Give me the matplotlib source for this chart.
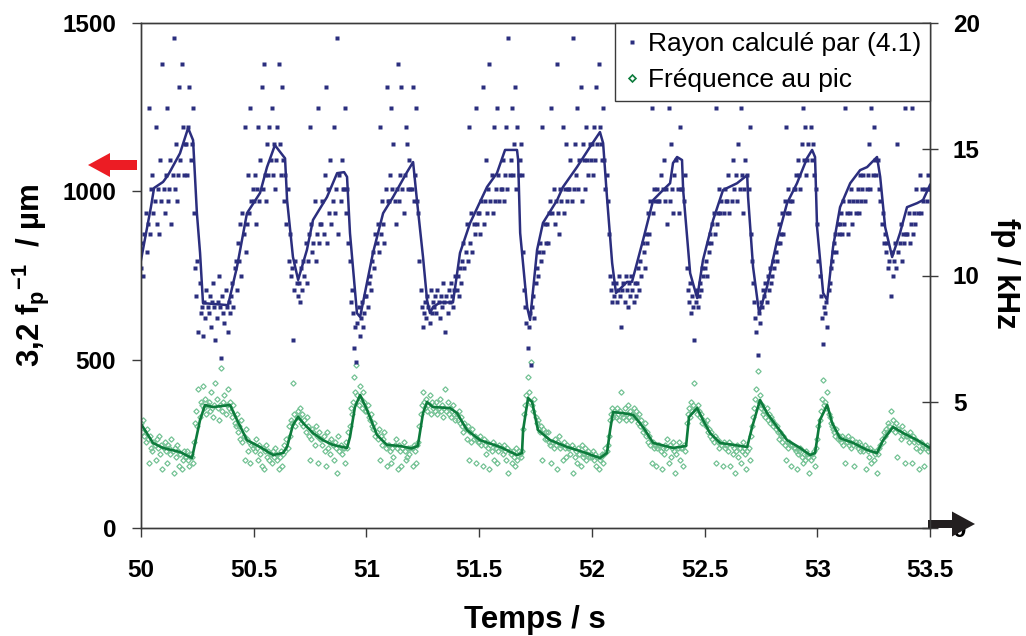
import numpy as np
import matplotlib.pyplot as plt
from matplotlib.lines import Line2D
from matplotlib.patches import FancyArrow
from matplotlib.transforms import Affine2D

plt.rcParams['font.family'] = ['Liberation Sans', 'DejaVu Sans']
plt.rcParams['font.weight'] = 'bold'
plt.rcParams['mathtext.fontset'] = 'custom'
plt.rcParams['mathtext.rm'] = 'Liberation Sans:bold'
plt.rcParams['mathtext.it'] = 'Liberation Sans:bold'
plt.rcParams['mathtext.bf'] = 'Liberation Sans:bold'
plt.rcParams['mathtext.default'] = 'rm'

W, H = 1026, 636

# raw peak frequency, as FFT bin index, one row per 0.1 s (dt = 5 ms)
T_START = 50.0
DT = 0.005
FP_BIN_KHZ = 0.1221
fp_bins = [
    [34, 31, 35, 30, 28, 32, 29, 21, 30, 26, 25, 28, 27, 22, 29, 26, 30, 24, 27, 19],
    [26, 28, 25, 21, 27, 26, 24, 29, 25, 18, 26, 23, 27, 25, 20, 24, 19, 22, 25, 23],
    [23, 25, 22, 20, 24, 23, 21, 28, 34, 38, 33, 45, 36, 41, 40, 46, 39, 42, 37, 40],
    [41, 38, 44, 39, 36, 40, 47, 42, 39, 35, 40, 52, 38, 41, 43, 37, 40, 45, 39, 41],
    [38, 36, 40, 34, 33, 37, 31, 33, 29, 35, 28, 30, 22, 32, 29, 25, 28, 21, 27, 26],
    [27, 25, 29, 26, 22, 27, 24, 20, 26, 19, 25, 27, 23, 25, 22, 24, 21, 25, 23, 26],
    [24, 22, 19, 23, 25, 20, 24, 27, 25, 29, 26, 33, 30, 35, 34, 47, 37, 33, 36, 38],
    [36, 39, 34, 37, 33, 35, 31, 36, 33, 30, 22, 29, 32, 31, 27, 33, 30, 21, 31, 29],
    [29, 27, 30, 25, 20, 31, 26, 28, 24, 29, 27, 22, 28, 26, 18, 30, 25, 27, 24, 26],
    [26, 21, 28, 26, 31, 33, 39, 37, 41, 49, 44, 53, 43, 40, 46, 42, 39, 44, 41, 38],
    [38, 40, 36, 35, 37, 33, 32, 34, 30, 31, 29, 32, 22, 30, 27, 29, 31, 26, 20, 27],
    [27, 25, 21, 26, 23, 27, 29, 26, 19, 27, 25, 20, 26, 28, 25, 22, 23, 26, 24, 26],
    [26, 20, 27, 25, 21, 27, 28, 33, 37, 40, 44, 41, 39, 42, 38, 40, 43, 37, 41, 39],
    [40, 38, 41, 37, 39, 42, 38, 40, 36, 39, 45, 38, 41, 37, 39, 36, 38, 40, 37, 35],
    [37, 35, 38, 34, 36, 33, 31, 34, 32, 29, 33, 22, 31, 28, 32, 29, 30, 21, 29, 28],
    [28, 30, 27, 20, 29, 27, 24, 28, 26, 19, 27, 25, 28, 22, 27, 26, 21, 25, 27, 26],
    [26, 24, 27, 25, 22, 26, 18, 25, 24, 21, 25, 23, 20, 26, 22, 25, 24, 23, 25, 32],
    [37, 40, 43, 49, 44, 41, 54, 40, 38, 42, 36, 34, 35, 32, 31, 33, 22, 32, 29, 31],
    [29, 31, 28, 27, 21, 28, 26, 29, 27, 19, 28, 30, 26, 27, 22, 28, 26, 23, 27, 26],
    [26, 24, 27, 18, 26, 23, 25, 21, 26, 24, 20, 27, 23, 24, 26, 22, 24, 25, 23, 24],
    [23, 25, 22, 24, 20, 23, 19, 22, 23, 24, 21, 24, 26, 25, 27, 30, 35, 37, 39, 36],
    [38, 36, 39, 37, 35, 38, 44, 37, 36, 39, 35, 37, 40, 36, 38, 35, 37, 39, 36, 38],
    [36, 34, 37, 33, 35, 31, 32, 34, 30, 31, 28, 30, 27, 21, 28, 26, 27, 20, 26, 27],
    [27, 25, 19, 26, 24, 27, 26, 29, 21, 27, 23, 26, 28, 25, 18, 24, 26, 28, 22, 26],
    [26, 20, 27, 25, 34, 37, 39, 36, 41, 38, 40, 47, 39, 37, 40, 38, 36, 37, 34, 35],
    [34, 33, 35, 31, 32, 30, 31, 29, 28, 30, 21, 29, 28, 26, 28, 27, 20, 28, 26, 27],
    [27, 25, 28, 20, 27, 24, 26, 18, 25, 27, 23, 26, 21, 25, 28, 26, 24, 19, 25, 26],
    [22, 30, 33, 36, 39, 42, 45, 51, 41, 43, 39, 40, 37, 38, 36, 39, 35, 37, 34, 36],
    [35, 33, 34, 32, 33, 31, 29, 31, 30, 28, 30, 27, 22, 28, 26, 28, 27, 20, 27, 26],
    [26, 25, 19, 24, 25, 26, 23, 21, 24, 22, 25, 24, 23, 18, 22, 24, 23, 25, 20, 26],
    [29, 33, 35, 38, 42, 48, 40, 41, 39, 44, 37, 36, 34, 33, 32, 31, 30, 32, 29, 30],
    [29, 28, 30, 27, 29, 21, 28, 30, 27, 28, 26, 29, 27, 20, 28, 27, 26, 28, 25, 27],
    [26, 25, 27, 19, 26, 25, 23, 26, 21, 25, 22, 24, 25, 18, 24, 26, 27, 29, 28, 31],
    [30, 32, 31, 34, 33, 38, 32, 35, 33, 31, 34, 23, 32, 31, 29, 33, 30, 31, 21, 30],
    [30, 28, 31, 29, 21, 30, 28, 29, 26, 28, 19, 25, 28, 26, 27, 20, 26, 27, 25, 26, 26],
]

# smoothed radius (um)
blue_t = [50.000, 50.044, 50.058, 50.098, 50.120, 50.173, 50.209, 50.231, 50.248, 50.262,
          50.275, 50.386, 50.426, 50.470, 50.528, 50.559, 50.594, 50.639, 50.648, 50.674,
          50.697, 50.736, 50.763, 50.825, 50.870, 50.901, 50.914, 50.927, 50.958, 50.972,
          51.029, 51.074, 51.118, 51.180, 51.207, 51.224, 51.251, 51.269, 51.282, 51.295,
          51.327, 51.384, 51.415, 51.460, 51.535, 51.579, 51.615, 51.668, 51.673, 51.682,
          51.713, 51.726, 51.757, 51.783, 51.846, 51.872, 51.934, 51.992, 52.036, 52.050,
          52.067, 52.090, 52.107, 52.156, 52.178, 52.227, 52.272, 52.316, 52.347, 52.360,
          52.378, 52.400, 52.405, 52.436, 52.467, 52.493, 52.538, 52.582, 52.644, 52.689,
          52.693, 52.715, 52.742, 52.777, 52.822, 52.866, 52.910, 52.955, 52.977, 52.990,
          52.999, 53.026, 53.044, 53.070, 53.101, 53.146, 53.190, 53.221, 53.265, 53.279,
          53.301, 53.332, 53.367, 53.398, 53.443, 53.469, 53.500]
blue_v = [796, 953, 1010, 1028, 1048, 1113, 1188, 1152, 935, 817,
          668, 662, 776, 935, 995, 1072, 1137, 1098, 974, 805,
          737, 826, 915, 983, 1054, 1057, 1043, 876, 638, 627,
          817, 935, 983, 1057, 1087, 974, 805, 677, 638, 656,
          670, 670, 817, 906, 1013, 1054, 1123, 1123, 1093, 876,
          656, 618, 826, 906, 974, 1013, 1072, 1132, 1176, 1143,
          983, 787, 698, 731, 731, 855, 974, 1004, 1024, 1084,
          1102, 1093, 1004, 757, 683, 796, 915, 1004, 1024, 1048,
          983, 776, 638, 716, 855, 965, 1024, 1099, 1123, 1102,
          894, 698, 677, 835, 953, 1024, 1063, 1072, 1102, 1043,
          894, 805, 876, 953, 965, 974, 1019]

# smoothed peak frequency (kHz)
green_t = [50.003, 50.053, 50.098, 50.173, 50.226, 50.231, 50.262, 50.284, 50.319, 50.395,
           50.426, 50.470, 50.528, 50.586, 50.630, 50.648, 50.674, 50.697, 50.719, 50.763,
           50.807, 50.852, 50.914, 50.927, 50.949, 50.972, 51.003, 51.047, 51.091, 51.149,
           51.200, 51.228, 51.251, 51.269, 51.295, 51.371, 51.402, 51.446, 51.504, 51.593,
           51.668, 51.690, 51.695, 51.717, 51.735, 51.761, 51.815, 51.890, 51.961, 52.036,
           52.067, 52.081, 52.094, 52.138, 52.183, 52.227, 52.272, 52.360, 52.418, 52.431,
           52.467, 52.493, 52.524, 52.569, 52.689, 52.711, 52.746, 52.777, 52.822, 52.866,
           52.924, 52.968, 52.990, 53.012, 53.044, 53.066, 53.101, 53.159, 53.221, 53.265,
           53.292, 53.336, 53.381, 53.443, 53.500]
green_v = [4.08, 3.37, 3.17, 3.01, 2.77, 2.97, 4.28, 4.87, 4.79, 4.87,
           4.28, 3.48, 3.21, 2.89, 2.97, 3.21, 4.08, 4.40, 4.16, 3.76,
           3.48, 3.29, 3.17, 3.60, 4.79, 5.27, 4.67, 3.68, 3.29, 3.25,
           3.15, 3.25, 4.55, 4.99, 4.79, 4.75, 4.55, 3.88, 3.48, 3.21,
           2.89, 2.97, 3.88, 5.15, 4.99, 3.88, 3.48, 3.21, 3.01, 2.77,
           2.97, 3.88, 4.59, 4.55, 4.48, 4.00, 3.37, 3.17, 3.25, 4.40,
           4.75, 4.28, 3.76, 3.37, 3.21, 4.00, 5.07, 4.55, 4.00, 3.48,
           3.17, 2.89, 2.97, 4.28, 4.87, 4.16, 3.56, 3.37, 3.09, 2.97,
           3.48, 4.00, 3.76, 3.48, 3.17]

x_ticks = [50, 50.5, 51, 51.5, 52, 52.5, 53, 53.5]
x_labels = ['50', '50.5', '51', '51.5', '52', '52.5', '53', '53.5']
left_ticks = [0, 500, 1000, 1500]
right_ticks = [0, 5, 10, 15, 20]

BLUE = '#2b2e7e'
GREEN = '#0d7b3c'
LIGHT_GREEN = '#74c294'
AXC = '#3a3a3a'

k = np.concatenate([np.array(r) for r in fp_bins])
t_raw = T_START + DT * np.arange(len(k))
fp_raw = k * FP_BIN_KHZ
rad_raw = 3.2e3 / fp_raw  # 3,2 / fp in um

fig = plt.figure(figsize=(W / 100, H / 100), dpi=100)
ax = fig.add_axes([141 / W, 1 - 528 / H, 789 / W, 505 / H])
ax2 = ax.twinx()
ax.set_zorder(ax2.get_zorder() + 1)
ax.patch.set_visible(False)

ax2.plot(t_raw, fp_raw, ls='none', marker='D', ms=2.7, mfc='none',
         mec=LIGHT_GREEN, mew=0.9)
ax2.plot(green_t, green_v, color=GREEN, lw=1.9)
ax.plot(t_raw, rad_raw, ls='none', marker='s', ms=2.3, mfc=BLUE, mec='none')
ax.plot(blue_t, blue_v, color=BLUE, lw=1.8)

ax.set_xlim(50, 53.5)
ax.set_ylim(0, 1500)
ax2.set_ylim(0, 20)
ax.set_xticks(x_ticks)
ax.set_xticklabels(x_labels)
ax.set_yticks(left_ticks)
ax2.set_yticks(right_ticks)

for a in (ax, ax2):
    for s in a.spines.values():
        s.set_color(AXC)
        s.set_linewidth(1.0)
ax.tick_params(axis='x', direction='out', length=6.5, width=1, pad=16,
               labelsize=17.5, color=AXC)
ax.tick_params(axis='y', direction='out', length=6.5, width=1, pad=11.5,
               labelsize=17.5, color=AXC)
ax2.tick_params(axis='y', direction='inout', length=12, width=1, pad=10.5,
                labelsize=17.5, color=AXC)

fig.text(31 / W, 1 - 275 / H, '3,2 f$_\\mathrm{p}$$^{\\mathrm{-1}}$  / µm',
         rotation=90, ha='center', va='center', fontsize=22.5, fontweight='bold')
fig.text(1005 / W, 1 - 273 / H, 'fp / kHz', rotation=270, ha='center',
         va='center', fontsize=22.5, fontweight='bold')
fig.text(535 / W, 1 - 620 / H, 'Temps / s', ha='center', va='center',
         fontsize=22.5, fontweight='bold')

handles = [
    Line2D([], [], ls='none', marker='s', ms=3.5, mfc=BLUE, mec='none'),
    Line2D([], [], ls='none', marker='D', ms=3.5, mfc='white', mec=GREEN, mew=1.2),
]
leg = ax.legend(handles, ['Rayon calculé par (4.1)', 'Fréquence au pic'],
                loc='upper right', bbox_to_anchor=(1, 1), borderaxespad=0,
                fancybox=False, frameon=True, handlelength=0.6,
                handletextpad=0.3, borderpad=0.35, labelspacing=0.45,
                prop={'size': 19, 'weight': 'normal'})
leg.get_frame().set_edgecolor(AXC)
leg.get_frame().set_linewidth(1.0)
leg.get_frame().set_alpha(1)

# arrows pointing to each axis, in pixel units
px = Affine2D().scale(1 / W, 1 / H) + fig.transFigure
fig.add_artist(FancyArrow(137, H - 165, -49, 0, width=10, head_width=24,
                          head_length=22, length_includes_head=True,
                          transform=px, color='#ec1c24', lw=0))
fig.add_artist(FancyArrow(928, H - 524, 47, 0, width=8, head_width=25,
                          head_length=23, length_includes_head=True,
                          transform=px, color='#231f20', lw=0))

fig.savefig('out.png', dpi=100)
